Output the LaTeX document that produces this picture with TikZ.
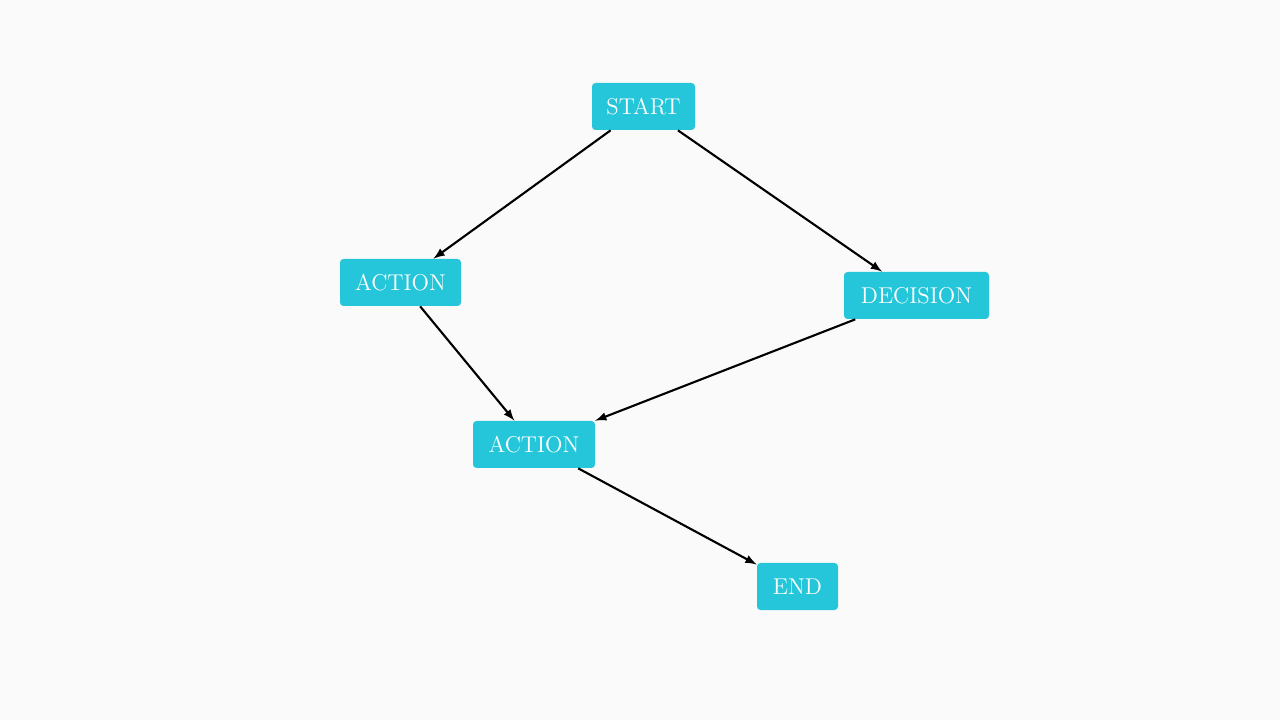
\documentclass[tikz,border=0pt]{standalone}
\usepackage{tikz}
\usetikzlibrary{calc}
\definecolor{boxcyan}{HTML}{26C6DA}
\definecolor{bgpaper}{HTML}{FAFAFA}
\tikzset{
    box/.style={fill=boxcyan, text=white, rounded corners=2pt, minimum height=0.94cm,
        inner sep=0pt, font=\fontsize{13}{15}\selectfont},
    flow/.style={line width=1.2pt, -latex}
}
\begin{document}
\begin{tikzpicture}
        \fill[bgpaper] (0,0) rectangle (25.6,14.4);
        \useasboundingbox (0,0) rectangle (25.6,14.4);
        \node[box, minimum width=2.06cm] (start) at (12.87,12.27) {START};
        \node[box, minimum width=2.42cm] (act1) at (8.01,8.75) {ACTION};
        \node[box, minimum width=2.90cm] (dec) at (18.33,8.49) {DECISION};
        \node[box, minimum width=2.44cm] (act2) at (10.68,5.51) {ACTION};
        \node[box, minimum width=1.62cm] (end) at (15.95,2.67) {END};
        \draw[flow] (start) -- (act1);
        \draw[flow] (start) -- (dec);
        \draw[flow] (act1) -- (act2);
        \draw[flow] (dec) -- (act2);
        \draw[flow] (act2) -- (end);
    \end{tikzpicture}
\end{document}
